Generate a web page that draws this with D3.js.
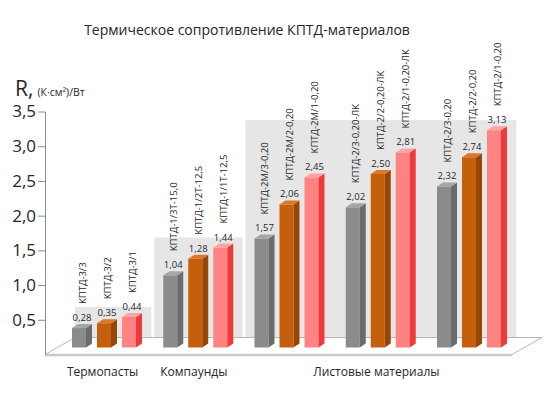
<!DOCTYPE html>
<html>
<head>
<meta charset="utf-8">
<script src="https://cdn.jsdelivr.net/npm/d3@7"></script>
<style>
  body { margin: 0; background: #fff; }
  svg { font-family: "Open Sans", "Noto Sans", sans-serif; }
</style>
</head>
<body>
<svg id="chart" width="550" height="399" viewBox="0 0 550 399"></svg>
<script>
// Data
const groups = [0, 1, 2, 3, 4];
const greyValues = [0.28, 1.04, 1.57, 2.02, 2.32];
const orangeValues = [0.35, 1.28, 2.06, 2.50, 2.74];
const pinkValues = [0.44, 1.44, 2.45, 2.81, 3.13];
const greyNames = ["КПТД-3/3", "КПТД-1/3Т-15,0", "КПТД-2М/3-0,20", "КПТД-2/3-0,20-ЛК", "КПТД-2/3-0,20"];
const orangeNames = ["КПТД-3/2", "КПТД-1/2Т-12,5", "КПТД-2М/2-0,20", "КПТД-2/2-0,20-ЛК", "КПТД-2/2-0,20"];
const pinkNames = ["КПТД-3/1", "КПТД-1/1Т-12,5", "КПТД-2М/1-0,20", "КПТД-2/1-0,20-ЛК", "КПТД-2/1-0,20"];
const categories = ["Термопасты", "Компаунды", "Листовые материалы"];
const categoryGroups = [[0], [1], [2, 3, 4]];
const yTicks = [0.5, 1, 1.5, 2, 2.5, 3, 3.5];

const series = [
    { values: greyValues, names: greyNames, front: "#8b8b8b", side: "#6b6b6b", top: "#a6a6a6" },
    { values: orangeValues, names: orangeNames, front: "#c65f0c", side: "#984606", top: "#d9782c" },
    { values: pinkValues, names: pinkNames, front: "#ff8383", side: "#f03a3a", top: "#ffa3a3" }
];

const svg = d3.select("#chart");
const fmt = v => d3.format(".2f")(v).replace(".", ",");

// 3D offsets
const barDx = 6, barDy = 4;      // side/top depth of bars
const barLift = 7;               // bars stand behind the front edge
const backDx = 30, backDy = 17;  // floor depth

const y = d3.scaleLinear().domain([0, 3.5]).range([354.5, 111.5]);

const x0 = d3.scaleBand()
    .domain(groups)
    .range([62, 518.25]);

const x1 = d3.scaleBand()
    .domain([0, 1, 2])
    .range([4.5, 79.5])
    .paddingInner(0.44)
    .paddingOuter(0.22);

const floorLeft = 45, floorRight = 512, floorY = y(0);

// Title
svg.append("text")
    .attr("x", 247)
    .attr("y", 35)
    .attr("text-anchor", "middle")
    .attr("font-size", "14px")
    .attr("fill", "#262626")
    .text("Термическое сопротивление КПТД-материалов");

// Y label
const yl = svg.append("text")
    .attr("x", 15)
    .attr("y", 96)
    .attr("fill", "#262626");
yl.append("tspan").attr("font-size", "21px").text("R,");
yl.append("tspan").attr("font-size", "10.5px").attr("dx", 4).text("(К·см²)/Вт");

// Back panels per category
const panelLeft = d => Math.max(x0(d[0]) + 1, floorLeft + backDx);
const groupMax = d => d3.max(d, g => d3.max(series, s => s.values[g]));
svg.append("g")
    .selectAll("rect")
    .data(categoryGroups)
    .join("rect")
    .attr("x", panelLeft)
    .attr("y", d => y(groupMax(d)) - backDy)
    .attr("width", d => x0(d[d.length - 1]) + x0.bandwidth() - 2 - panelLeft(d))
    .attr("height", d => y(0) - y(groupMax(d)))
    .attr("fill", "#e6e6e6");

// Floor
svg.append("path")
    .attr("d", `M${floorLeft},${floorY} L${floorLeft + backDx},${floorY - backDy} L${floorRight + backDx},${floorY - backDy} L${floorRight},${floorY}`)
    .attr("fill", "none")
    .attr("stroke", "#a6a6a6")
    .attr("stroke-width", 0.8);
svg.append("line")
    .attr("x1", floorLeft).attr("x2", floorRight)
    .attr("y1", floorY + 0.5).attr("y2", floorY + 0.5)
    .attr("stroke", "#c8c8c8")
    .attr("stroke-width", 2.5);

// Y axis
const yAxis = svg.append("g")
    .attr("transform", `translate(${floorLeft},0)`)
    .call(d3.axisLeft(y)
        .tickValues(yTicks)
        .tickSize(7)
        .tickSizeOuter(0)
        .tickFormat(d => d3.format(".1f")(d).replace(".", ",")));
yAxis.select(".domain").attr("stroke", "#8c8c8c");
yAxis.selectAll(".tick line").attr("stroke", "#8c8c8c");
yAxis.selectAll(".tick text")
    .attr("x", -9)
    .attr("font-family", "Open Sans, sans-serif")
    .attr("font-size", "17px")
    .attr("fill", "#262626");

// Bars
const bars = [];
series.forEach((s, i) => {
    groups.forEach(g => {
        bars.push({ s, i, g, v: s.values[g], name: s.names[g] });
    });
});

const bx = d => x0(d.g) + x1(d.i);
const bw = x1.bandwidth();
const bTop = d => y(d.v) - barLift;
const bBase = y(0) - barLift;

const barG = svg.append("g")
    .selectAll("g")
    .data(bars)
    .join("g");

barG.append("rect")
    .attr("x", bx)
    .attr("y", bTop)
    .attr("width", bw)
    .attr("height", d => bBase - bTop(d))
    .attr("fill", d => d.s.front);

barG.append("path")
    .attr("d", d => `M${bx(d) + bw},${bTop(d)} L${bx(d) + bw + barDx},${bTop(d) - barDy} L${bx(d) + bw + barDx},${bBase - barDy} L${bx(d) + bw},${bBase}Z`)
    .attr("fill", d => d.s.side);

barG.append("path")
    .attr("d", d => `M${bx(d)},${bTop(d)} L${bx(d) + barDx},${bTop(d) - barDy} L${bx(d) + bw + barDx},${bTop(d) - barDy} L${bx(d) + bw},${bTop(d)}Z`)
    .attr("fill", d => d.s.top);

// Value labels
barG.append("text")
    .attr("x", d => bx(d) + (bw + barDx) / 2)
    .attr("y", d => bTop(d) - 7)
    .attr("text-anchor", "middle")
    .attr("font-size", "9.5px")
    .attr("fill", "#262626")
    .text(d => fmt(d.v));

// Name labels (rotated)
barG.append("text")
    .attr("transform", d => `translate(${bx(d) + (bw + barDx) / 2 + 3.5},${bTop(d) - 24}) rotate(-90)`)
    .attr("font-size", "9.5px")
    .attr("fill", "#262626")
    .text(d => d.name);

// Category labels
svg.append("g")
    .selectAll("text")
    .data(categories)
    .join("text")
    .attr("x", (d, i) => d3.mean(categoryGroups[i], g => x0(g) + x0.bandwidth() / 2) - 5)
    .attr("y", 376)
    .attr("text-anchor", "middle")
    .attr("font-size", "12px")
    .attr("fill", "#262626")
    .text(d => d);
</script>
</body>
</html>
